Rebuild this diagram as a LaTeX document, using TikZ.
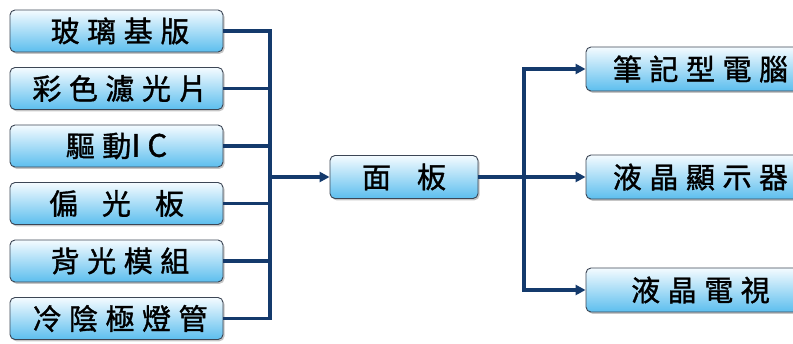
\documentclass[tikz,border=0pt]{standalone}
\usepackage{fontspec}
\newfontfamily\tcfont[LetterSpace=26,FakeBold=1.2]{Noto Sans CJK TC}
\newfontfamily\tclatin[FakeBold=1.2]{Noto Sans CJK TC}
\usetikzlibrary{arrows.meta,shadows}
\definecolor{linkblue}{RGB}{20,58,108}
\definecolor{boxtop}{RGB}{244,251,255}
\definecolor{boxbot}{RGB}{92,190,238}
\definecolor{boxline}{RGB}{60,70,85}
\begin{document}
\begin{tikzpicture}[x=1pt,y=-1pt,
		box/.style={draw=boxline,line width=0.9pt,rounded corners=5pt,
			top color=boxtop,bottom color=boxbot,inner sep=0pt,
			font=\tcfont\fontsize{29}{29}\selectfont,
			drop shadow={shadow xshift=1.5pt,shadow yshift=-1.8pt,opacity=0.45}},
		part/.style={box,minimum width=213pt,minimum height=42pt},
		product/.style={box,minimum width=222pt,minimum height=44pt},
		link/.style={draw=linkblue,line width=3.2pt},
		tip/.style={-{Triangle[length=10pt,width=10pt]}}]
		\useasboundingbox (0,0) rectangle (793,343);
		% parts
		\node [part] (glass) at (116.5,31) {\hspace{7pt}玻璃基版};
		\node [part] (filter) at (116.5,88.5) {\hspace{7pt}彩色濾光片};
		\node [part] (driver) at (116.5,146) {驅動{\tclatin\fontsize{31}{31}\selectfont I\hspace{7pt}C}};
		\node [part] (polar) at (116.5,203.5) {偏\hspace{24pt}光\hspace{24pt}板};
		\node [part] (backlight) at (116.5,261) {\hspace{7pt}背光模組};
		\node [part] (lamp) at (116.5,318.5) {\hspace{7pt}冷陰極燈管};
		% panel
		\node [box,minimum width=148pt,minimum height=43pt] (panel) at (404,177) {面\hspace{26pt}板};
		% products
		\node [product] (notebook) at (697,69) {\hspace{7pt}筆記型電腦};
		\node [product] (monitor) at (697,177) {\hspace{7pt}液晶顯示器};
		\node [product] (tv) at (697,290) {\hspace{7pt}液晶電視};
		% buses
		\coordinate (lbus) at (270,0);
		\coordinate (rbus) at (524,0);
		\draw [link] (glass.east) -| (lbus |- lamp.east) -- (lamp.east);
		\draw [link] (filter.east) -- (filter.east -| lbus);
		\draw [link] (driver.east) -- (driver.east -| lbus);
		\draw [link] (polar.east) -- (polar.east -| lbus);
		\draw [link] (backlight.east) -- (backlight.east -| lbus);
		\draw [link,tip] (panel.west -| lbus) -- (panel.west);
		\draw [link] (panel.east) -- (panel.east -| rbus);
		\draw [link,{Triangle[length=10pt,width=10pt]}-{Triangle[length=10pt,width=10pt]}]
			(notebook.west) -| (rbus |- monitor.west) |- (tv.west);
		\draw [link,tip] (monitor.west -| rbus) -- (monitor.west);
	\end{tikzpicture}
\end{document}
